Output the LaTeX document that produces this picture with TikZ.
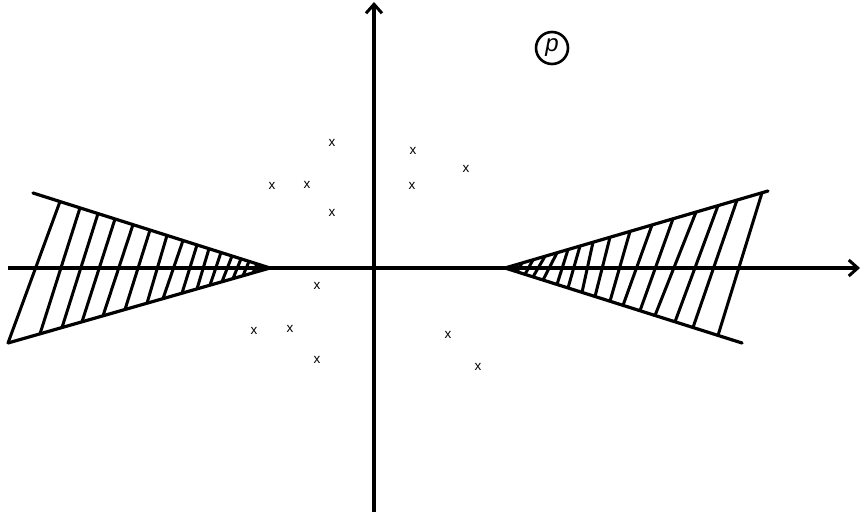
\documentclass[tikz,border=0pt]{standalone}
\usepackage{fontspec}
\setmainfont{Liberation Sans}
\usetikzlibrary{arrows.meta}
\begin{document}
\begin{tikzpicture}[x=1pt,y=-1pt,
  axis/.style={line width=3.2pt,-{Straight Barb[length=9pt,width=16pt,line width=3pt]}},
  edge/.style={line width=3.2pt,line cap=round},
  hatch/.style={line width=3pt},
  xmark/.style={font=\fontsize{13.5}{13.5}\selectfont,inner sep=0pt},
  plabel/.style={draw,circle,line width=2.6pt,minimum size=32pt,inner sep=0pt,font=\fontsize{24}{24}\selectfont\itshape}]
\useasboundingbox (0,0) rectangle (862,519);
% axes
\coordinate (xs) at (8,268);
\coordinate (xe) at (860,268);
\coordinate (ys) at (374,512);
\coordinate (ye) at (374,2);
\draw[axis] (xs) -- (xe);
\draw[axis] (ys) -- (ye);
% left wedge
\coordinate (la) at (270,268);
\coordinate (lu) at (33,193);
\coordinate (ll) at (8,343);
\draw[edge] (lu) -- (la) -- (ll);
\foreach \a/\b in {210/262,190/230,172/208,155/188,137/167,120/145,103/123,87/107,73/88,61/73,49/60,38/48,29/37,21/27,13/17}
  \draw[hatch] ({270-\a},{268-0.31646*\a}) -- ({270-\b},{268+0.28626*\b});
% right wedge
\coordinate (ra) at (505,268);
\coordinate (ru) at (768,191);
\coordinate (rl) at (742,343);
\draw[edge] (ru) -- (ra) -- (rl);
\foreach \a/\b in {257/213,232/188,213/170,191/150,168/135,147/118,125/105,105/90,88/77,75/63,63/52,52/38,40/28,28/20,17/12}
  \draw[hatch] ({505+\a},{268-0.29278*\a}) -- ({505+\b},{268+0.31646*\b});
% label
\node[plabel] (p) at (552,48) {p};
% marks
\node[xmark] (m1) at (332,143) {x};
\node[xmark] (m2) at (272,186) {x};
\node[xmark] (m3) at (307,185) {x};
\node[xmark] (m4) at (332,213) {x};
\node[xmark] (m5) at (413,151) {x};
\node[xmark] (m6) at (466,169) {x};
\node[xmark] (m7) at (412,186) {x};
\node[xmark] (m8) at (317,286) {x};
\node[xmark] (m9) at (254,331) {x};
\node[xmark] (m10) at (290,329) {x};
\node[xmark] (m11) at (317,360) {x};
\node[xmark] (m12) at (448,335) {x};
\node[xmark] (m13) at (478,367) {x};
\end{tikzpicture}
\end{document}
